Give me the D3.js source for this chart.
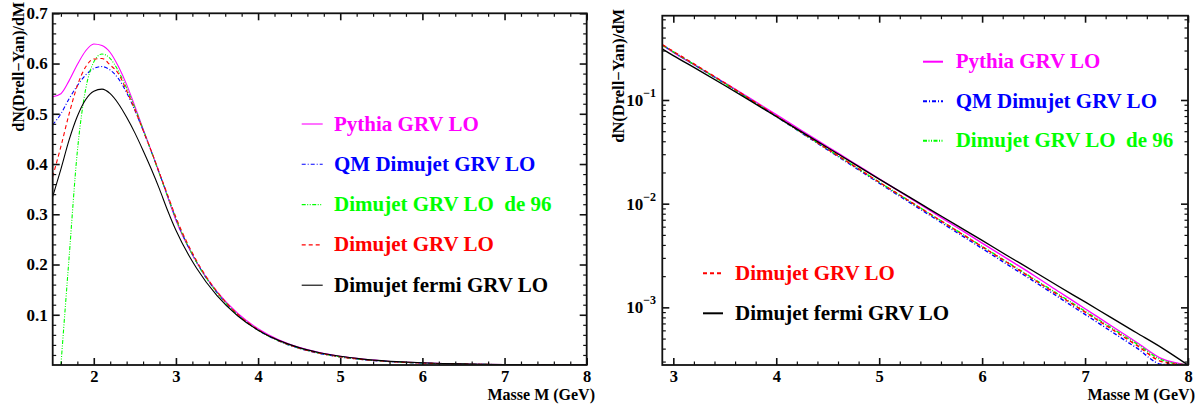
<!DOCTYPE html>
<html><head><meta charset="utf-8">
<script src="https://cdn.jsdelivr.net/npm/d3@7"></script>
<style>
html,body{margin:0;padding:0;background:#fff;}
svg{display:block;background:#fff;}
text{font-family:"Liberation Serif","Times New Roman",serif;font-weight:bold;}
</style>
</head><body>
<svg id="chart" width="1197" height="408"></svg>
<script>
// ---- data ----
const masses = [1.5,1.6,1.7,1.8,1.9,2.0,2.1,2.2,2.3,2.4,2.5,2.6,2.7,2.8,2.9,3.0,
  3.25,3.5,3.75,4.0,4.25,4.5,4.75,5.0,5.25,5.5,5.75,6.0,6.25,6.5,6.75,7.0,7.25,7.5,7.75,8.0];
const pythia = [0.534,0.540,0.566,0.598,0.625,0.639,0.636,0.622,0.594,0.558,0.515,0.470,0.426,0.381,0.334,0.288,
  0.205,0.146,0.103,0.0723,0.0505,0.0354,0.0248,0.0174,0.01216,0.00851,0.00596,0.00417,0.00292,0.00204,0.001406,0.000970,0.000668,0.000461,0.000318,0.000219];
const qmDimujet = [0.478,0.500,0.530,0.556,0.577,0.590,0.594,0.587,0.570,0.542,0.507,0.467,0.425,0.381,0.336,0.291,
  0.205,0.144,0.1000,0.0693,0.0478,0.0330,0.02280,0.01578,0.01096,0.00764,0.00531,0.00370,0.00257,0.00179,0.001239,0.000855,0.000590,0.000407,0.000282,0.000195];
const dimujet96 = [null,0.0,0.215,0.425,0.548,0.603,0.619,0.610,0.585,0.551,0.512,0.469,0.425,0.380,0.335,0.291,
  0.205,0.144,0.1003,0.0697,0.0483,0.0335,0.0233,0.01615,0.01129,0.00789,0.00553,0.00387,0.00271,0.00189,0.00132,0.000918,0.000640,0.000446,0.000310,0.000216];
const dimujet = [0.375,0.435,0.500,0.556,0.593,0.609,0.610,0.597,0.580,0.546,0.508,0.467,0.426,0.382,0.338,0.294,
  0.208,0.146,0.1015,0.0703,0.0484,0.0335,0.0233,0.01614,0.01127,0.00787,0.00550,0.00384,0.00268,0.00186,0.001294,0.000899,0.000624,0.000432,0.000299,0.000207];
const dimujetFermi = [0.335,0.390,0.448,0.495,0.528,0.545,0.549,0.540,0.520,0.493,0.462,0.427,0.390,0.350,0.307,0.268,
  0.193,0.138,0.0980,0.0693,0.0490,0.0346,0.0245,0.01726,0.01227,0.00873,0.00621,0.00442,0.00313,0.00223,0.00158,0.001127,0.000800,0.000569,0.000405,0.000275];

const seriesNames = ["Pythia GRV LO","QM Dimujet GRV LO","Dimujet GRV LO  de 96","Dimujet GRV LO","Dimujet fermi GRV LO"];
const seriesValues = [pythia, qmDimujet, dimujet96, dimujet, dimujetFermi];

const leftXTicks = [2,3,4,5,6,7,8];
const leftYTicks = [0.1,0.2,0.3,0.4,0.5,0.6,0.7];
const rightXTicks = [3,4,5,6,7,8];
const rightYTicks = [1e-3,1e-2,1e-1];
const rightYTickLabels = [["10","−3"],["10","−2"],["10","−1"]];
const xTitle = "Masse M (GeV)";
const yTitle = "dN(Drell−Yan)/dM";

// ---- styles ----
const colors = ["#ff00ff","#0000ff","#00ff00","#ff0000","#000000"];
const dashes = [null,"4,2,1,2","4,1.5,1,1.5,1,1.5","4,3",null];
const axisColor = "#111";
const FONT = '"Liberation Serif","Times New Roman",serif';

const svg = d3.select("#chart");

function drawPanel(cfg){
  const {x, y, minorX, minorY, id, curveWidth, clampLog} = cfg;
  const [x0,x1] = x.range(), [y0,y1] = y.range(); // y0 bottom, y1 top
  const g = svg.append("g");
  g.append("clipPath").attr("id",id).append("rect")
    .attr("x",x0).attr("y",y1).attr("width",x1-x0).attr("height",y0-y1);

  // curves
  const series = seriesValues.map((vals,i)=>({i, pts: masses.map((m,k)=>({m, v: vals[k]}))}));
  const line = d3.line()
    .defined(d => d.v !== null && (!clampLog || d.v > 0))
    .x(d => x(d.m)).y(d => y(d.v))
    .curve(d3.curveMonotoneX);
  g.append("g").attr("clip-path",`url(#${id})`)
    .selectAll("path").data(series).join("path")
    .attr("d", d => line(d.pts))
    .attr("fill","none")
    .attr("stroke", d => colors[d.i])
    .attr("stroke-width", curveWidth)
    .attr("stroke-dasharray", d => dashes[d.i]);

  // axes: major + minor ticks on all sides, pointing inward
  function styleAxis(sel, w){
    sel.select(".domain").remove();
    sel.attr("font-family",FONT);
    sel.selectAll(".tick line").attr("stroke",axisColor).attr("stroke-width",w);
  }
  const bottom = g.append("g").attr("transform",`translate(0,${y0})`)
    .call(d3.axisBottom(x).tickValues(cfg.xTicks).tickSize(-7).tickPadding(5).tickFormat(d3.format("d")));
  styleAxis(bottom,1.6);
  bottom.selectAll("text").attr("font-size",16.5).attr("fill","#000");
  styleAxis(g.append("g").attr("transform",`translate(0,${y0})`)
    .call(d3.axisBottom(x).tickValues(minorX).tickSize(-3.5).tickFormat("")),1.2);
  styleAxis(g.append("g").attr("transform",`translate(0,${y1})`)
    .call(d3.axisTop(x).tickValues(cfg.xTicks).tickSize(-7).tickFormat("")),1.6);
  styleAxis(g.append("g").attr("transform",`translate(0,${y1})`)
    .call(d3.axisTop(x).tickValues(minorX).tickSize(-3.5).tickFormat("")),1.2);

  const left = g.append("g").attr("transform",`translate(${x0},0)`)
    .call(d3.axisLeft(y).tickValues(cfg.yTicks).tickSize(-7).tickPadding(5).tickFormat(cfg.yFormat || ""));
  styleAxis(left,1.6);
  left.selectAll("text").attr("font-size",17).attr("fill","#000");
  styleAxis(g.append("g").attr("transform",`translate(${x0},0)`)
    .call(d3.axisLeft(y).tickValues(minorY).tickSize(-3.5).tickFormat("")),1.2);
  styleAxis(g.append("g").attr("transform",`translate(${x1},0)`)
    .call(d3.axisRight(y).tickValues(cfg.yTicks).tickSize(-7).tickFormat("")),1.6);
  styleAxis(g.append("g").attr("transform",`translate(${x1},0)`)
    .call(d3.axisRight(y).tickValues(minorY).tickSize(-3.5).tickFormat("")),1.2);

  // frame
  g.append("rect").attr("x",x0).attr("y",y1).attr("width",x1-x0).attr("height",y0-y1)
    .attr("fill","none").attr("stroke",axisColor).attr("stroke-width",1.8);

  // titles
  g.append("text").attr("x",cfg.xTitleX).attr("y",400).attr("text-anchor","end")
    .attr("font-size",16).text(xTitle);
  g.append("text").attr("transform",`translate(${cfg.yTitleX},${cfg.yTitleTop}) rotate(-90)`)
    .attr("text-anchor","end").attr("font-size",cfg.yTitleSize).text(yTitle);

  // legend
  const lg = g.append("g");
  cfg.legendRows.forEach((row)=>{
    const i = row.i;
    lg.append("line").attr("x1",row.lx).attr("x2",row.lx+cfg.legendLen)
      .attr("y1",row.ly).attr("y2",row.ly)
      .attr("stroke",colors[i]).attr("stroke-width",cfg.legendWidth)
      .attr("stroke-dasharray",dashes[i]);
    lg.append("text").attr("x",row.tx).attr("y",row.ly+6.5)
      .attr("font-size",21).attr("fill",colors[i]).style("white-space","pre")
      .text(seriesNames[i]);
  });
  return g;
}

// ---- left panel (linear) ----
const xL = d3.scaleLinear().domain([1.5,8]).range([52.7,586.7]);
const yL = d3.scaleLinear().domain([0,0.7]).range([365,13.3]);
const lMinorX = d3.range(1.6,7.9,0.2).map(v=>+v.toFixed(2)).filter(v=>Math.abs(v-Math.round(v))>1e-6);
const lMinorY = d3.range(0.02,0.7,0.02).map(v=>+v.toFixed(3)).filter(v=>Math.abs(v*10-Math.round(v*10))>1e-6);
const leftRowsY = i => 124 + i*40.3;
drawPanel({
  id:"clipL", x:xL, y:yL, xTicks:leftXTicks, yTicks:leftYTicks, minorX:lMinorX, minorY:lMinorY,
  yFormat: d3.format(".1f"), curveWidth:1.1, clampLog:false,
  xTitleX:595, yTitleX:24, yTitleTop:2, yTitleSize:16,
  legendLen:21, legendWidth:1.1,
  legendRows:[0,1,2,3,4].map(i=>({i, lx:301.7, ly:leftRowsY(i), tx:334}))
});

// ---- right panel (log) ----
const xR = d3.scaleLinear().domain([2.893,8]).range([662.3,1188]);
const yR = d3.scaleLog().domain([2.78e-4,0.65]).range([365,15.7]).clamp(true);
const rMinorX = d3.range(3.2,7.9,0.2).map(v=>+v.toFixed(2)).filter(v=>Math.abs(v-Math.round(v))>1e-6);
const rMinorY = [];
[-4,-3,-2,-1].forEach(e=>{ for(let k=2;k<=9;k++){ const v=k*Math.pow(10,e); if(v>=2.78e-4 && v<=0.65) rMinorY.push(v);} });
const rightRowsY = i => i<3 ? 61.7 + i*39.5 : 273.3 + (i-3)*40;
const gR = drawPanel({
  id:"clipR", x:xR, y:yR, xTicks:rightXTicks, yTicks:rightYTicks, minorX:rMinorX, minorY:rMinorY,
  yFormat: ()=>"", curveWidth:1.4, clampLog:true,
  xTitleX:1195, yTitleX:624, yTitleTop:9, yTitleSize:16.5,
  legendLen:20, legendWidth:2,
  legendRows:[0,1,2,3,4].map(i=>({i, lx: i<3?923:703, ly:rightRowsY(i), tx: i<3?955.7:735}))
});
// log tick labels 10^n
rightYTicks.forEach((v,k)=>{
  const t = gR.append("text").attr("x",656).attr("y",yR(v)+6).attr("text-anchor","end").attr("font-size",17);
  t.append("tspan").text(rightYTickLabels[k][0]);
  t.append("tspan").attr("dy",-9).attr("font-size",12).text(rightYTickLabels[k][1]);
});
</script>
</body></html>
